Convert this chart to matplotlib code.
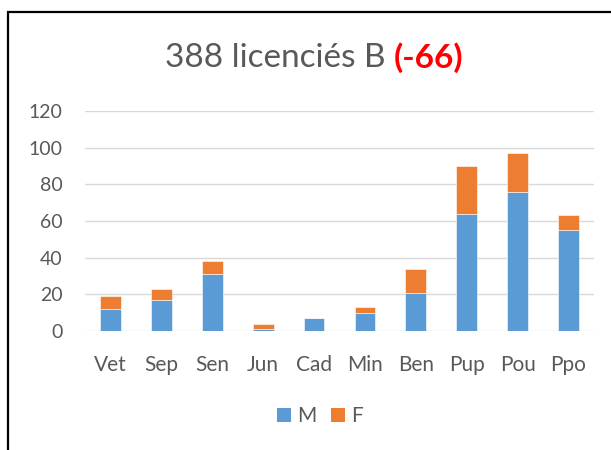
#!/usr/bin/env python3
import matplotlib

matplotlib.use("Agg")
import matplotlib.pyplot as plt
from matplotlib.patches import Rectangle, Patch

categories = ["Vet", "Sep", "Sen", "Jun", "Cad", "Min", "Ben", "Pup", "Pou", "Ppo"]
males = [12, 17, 31, 1, 7, 10, 21, 64, 76, 55]
females = [7, 6, 7, 3, 0, 3, 13, 26, 21, 8]
y_ticks = [0, 20, 40, 60, 80, 100, 120]

title_main = "388 licenciés B "
title_delta = "(-66)"

BLUE = "#5B9BD5"
ORANGE = "#ED7D31"
GREY = "#595959"

plt.rcParams["font.family"] = ["Lato", "DejaVu Sans"]

W, H = 611, 450
fig = plt.figure(figsize=(W / 100, H / 100), dpi=100)

# outer chart frame (cut off at right and bottom in the reference)
fig.patches.append(
    Rectangle((8 / W, -0.1), 1.2, 1.1 - 12 / H, transform=fig.transFigure,
              fill=False, edgecolor="black", linewidth=1.6)
)

ax = fig.add_axes([85 / W, 1 - 331 / H, (594 - 85) / W, (331 - 111) / H])
x = list(range(len(categories)))
ax.bar(x, males, width=0.41, color=BLUE, edgecolor="white", linewidth=0.4, label="M", zorder=3)
ax.bar(x, females, width=0.41, bottom=males, color=ORANGE, edgecolor="white",
       linewidth=0.4, label="F", zorder=3)

ax.set_xlim(-0.5, len(categories) - 0.5)
ax.set_ylim(0, 120)
ax.set_yticks(y_ticks)
ax.set_xticks(x)
ax.set_xticklabels(categories)
ax.grid(axis="y", color="#D9D9D9", linewidth=1.0, zorder=0)
for s in ax.spines.values():
    s.set_visible(False)
ax.tick_params(axis="both", length=0, labelcolor=GREY)
ax.tick_params(axis="y", pad=16, labelsize=14)
ax.tick_params(axis="x", pad=17, labelsize=15)

t1 = fig.text(165 / W, 1 - 67 / H, title_main, fontsize=24, color=GREY,
              ha="left", va="baseline")
fig.canvas.draw()
ax.annotate(title_delta, xy=(1, 0), xycoords=t1, ha="left", va="bottom",
            fontsize=24, fontweight="bold", color="#FF0000",
            annotation_clip=False)

handles = [Patch(facecolor=BLUE, label="M"), Patch(facecolor=ORANGE, label="F")]
fig.legend(handles=handles, loc="center", bbox_to_anchor=(320 / W, 1 - 416 / H),
           ncol=2, frameon=False, fontsize=15, labelcolor=GREY,
           handlelength=0.67, handleheight=0.67, handletextpad=0.3, columnspacing=0.7)

fig.savefig("out.png", dpi=100)
plt.close(fig)
